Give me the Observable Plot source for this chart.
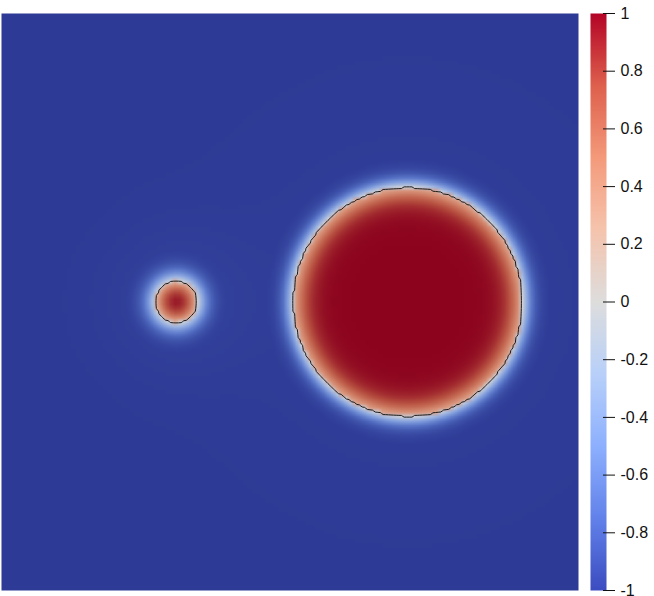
<!DOCTYPE html>
<html><head><meta charset="utf-8">
<script src="https://cdn.jsdelivr.net/npm/d3@7"></script>
<script src="https://cdn.jsdelivr.net/npm/@observablehq/plot@0.6"></script>
<style>
body{margin:0;background:#fff;}
#wrap{display:flex;flex-direction:row;width:654px;height:596px;}
#wrap svg{display:block;}
</style></head><body><div id="wrap"></div>
<script>
// Droplets (domain units, square domain [0,1] x [0,1])
const dropletNames  = ["small", "large"];
const dropletX      = [0.303, 0.704];
const dropletY      = [0.500, 0.500];
const dropletRadius = [0.0355, 0.198];
const dropletPeak   = [1.0, 1.0];
const outerWidth    = [0.024, 0.020];
const innerWidth    = [0.022, 0.030];
const innerJump     = [0.25, 0.30];
const haloAmp       = [0.035, 0.02];
const haloSigma     = [0.12, 0.30];
const contourLevels = [0.1];
const colorbarTicks = [-1, -0.8, -0.6, -0.4, -0.2, 0, 0.2, 0.4, 0.6, 0.8, 1];
// Cool to Warm colour map stops (value -1 .. 1)
const stopValues = [-1, -0.75, -0.5, -0.25, 0, 0.25, 0.5, 0.75, 1];
const coolWarmStops = ["rgb(59,76,192)", "rgb(98,130,234)", "rgb(141,176,254)", "rgb(184,208,249)",
  "rgb(221,221,221)", "rgb(245,196,173)", "rgb(244,154,123)", "rgb(222,96,77)", "rgb(180,4,38)"];
const shadeFactors = [0.78, 0.82, 0.87, 0.91, 0.96, 0.91, 0.87, 0.82, 0.78];

const coolWarm = d3.piecewise(d3.interpolateRgb, coolWarmStops);
const shadedStops = coolWarmStops.map((c, i) => {
  const k = shadeFactors[i], col = d3.rgb(c);
  return d3.rgb(col.r * k, col.g * k, col.b * k).toString();
});
const shaded = d3.piecewise(d3.interpolateRgb, shadedStops);

function phi(x, y) {
  let base = -1;
  const parts = [];
  for (let i = 0; i < dropletNames.length; i++) {
    const r = Math.hypot(x - dropletX[i], y - dropletY[i]);
    const q = r / haloSigma[i];
    base += haloAmp[i] * Math.exp(-(q * q));
    const d = dropletRadius[i] - r;
    const f = d < 0 ? -Math.tanh(-d / outerWidth[i])
                    : innerJump[i] + (dropletPeak[i] - innerJump[i]) * Math.tanh(d / innerWidth[i]);
    parts.push(f);
  }
  return Math.max(base, ...parts);
}

const field = Plot.plot({
  width: 580, height: 596,
  marginLeft: 1, marginRight: 2, marginTop: 13, marginBottom: 6,
  x: {domain: [0, 1], axis: null},
  y: {domain: [0, 1], axis: null},
  color: {type: "linear", domain: [-1, 1], interpolate: shaded},
  marks: [
    Plot.raster({fill: phi, x1: 0, y1: 0, x2: 1, y2: 1, width: 128, height: 128, imageRendering: "auto"}),
    Plot.contour({value: phi, x1: 0, y1: 0, x2: 1, y2: 1, width: 220, height: 220,
      thresholds: contourLevels, fill: "none", stroke: "#1a1a1a", strokeWidth: 1})
  ]
});

const bar = Plot.plot({
  width: 74, height: 596,
  marginLeft: 10, marginRight: 52, marginTop: 13, marginBottom: 6,
  style: {fontFamily: "Liberation Sans, Arial, sans-serif", color: "#111"},
  x: {domain: [0, 1], axis: null},
  y: {domain: [-1, 1], axis: null},
  color: {type: "linear", domain: [-1, 1], interpolate: coolWarm},
  marks: [
    Plot.raster({fill: (x, y) => y, x1: 0, x2: 16 / 12, y1: -1, y2: 1, width: 2, height: 300}),
    Plot.axisY(colorbarTicks, {anchor: "right", tickSize: 12, tickPadding: 6, fontSize: 16,
      tickFormat: d => String(d), stroke: "#111"})
  ]
});

document.getElementById("wrap").append(field, bar);
</script></body></html>
